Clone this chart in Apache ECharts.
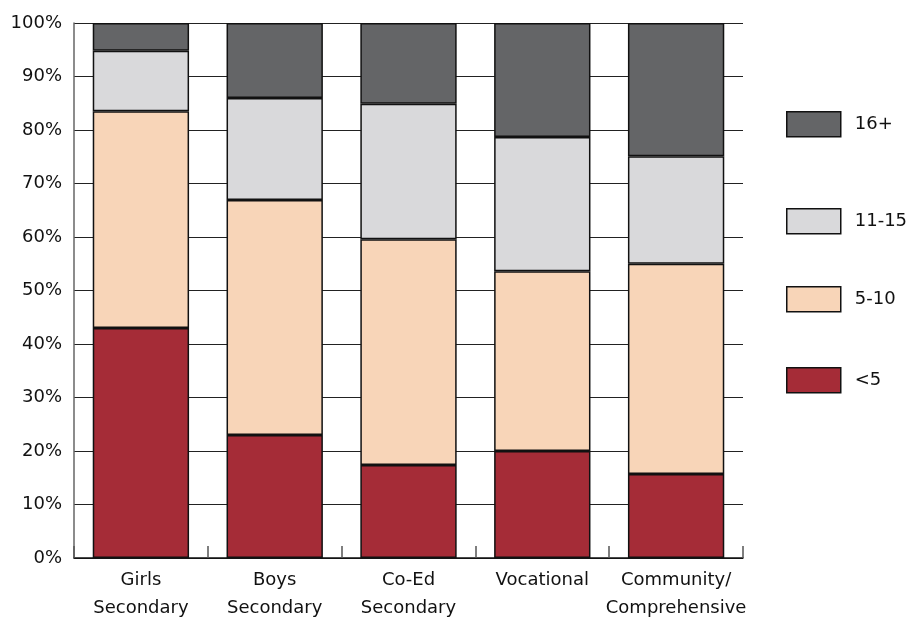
<!DOCTYPE html>
<html><head><meta charset="utf-8">
<script src="https://cdn.jsdelivr.net/npm/echarts@6/dist/echarts.min.js"></script>
<style>html,body{margin:0;padding:0;background:#fff}#c{width:909px;height:619px}</style>
</head><body><div id="c"></div>
<script>
const categories = ["Girls\nSecondary", "Boys\nSecondary", "Co-Ed\nSecondary", "Vocational", "Community/\nComprehensive"];
const seriesNames = ["<5", "5-10", "11-15", "16+"];
const under5 = [43.0, 23.0, 17.4, 20.0, 15.7];
const five10 = [40.5, 43.9, 42.2, 33.6, 39.3];
const eleven15 = [11.3, 19.1, 25.3, 25.1, 20.1];
const sixteenPlus = [5.2, 14.0, 15.1, 21.3, 24.9];
const yTicks = [0, 10, 20, 30, 40, 50, 60, 70, 80, 90, 100];

const colors = ["#a52c37", "#f8d5b8", "#d9d9db", "#646567"];
const dataSets = [under5, five10, eleven15, sixteenPlus];
const font = "'DejaVu Sans', sans-serif";
const legendTops = {"16+": 111, "11-15": 208, "5-10": 286, "<5": 367};

const chart = echarts.init(document.getElementById('c'), null, {renderer: 'canvas'});
const legends = seriesNames.map((n, i) => ({
  left: 786, top: legendTops[n], padding: 0, orient: 'vertical',
  itemWidth: 54, itemHeight: 25, selectedMode: false,
  icon: 'rect',
  data: [{name: n, itemStyle: {color: colors[i], borderColor: '#111', borderWidth: 1.5}}],
  textStyle: {fontFamily: font, fontSize: 18, color: '#111', padding: [0, 0, 0, 9]}
}));
chart.setOption({
  animation: false,
  textStyle: {fontFamily: font},
  legend: legends,
  grid: {left: 74, right: 166, top: 23, bottom: 61, containLabel: false, outerBoundsMode: 'none'},
  xAxis: {
    type: 'category', data: categories,
    axisLine: {lineStyle: {color: '#111', width: 1.5}},
    axisTick: {show: true, inside: true, length: 12, interval: 0, lineStyle: {color: '#555', width: 1.5}},
    axisLabel: {fontFamily: font, fontSize: 18, color: '#111', lineHeight: 28, margin: 8, interval: 0, hideOverlap: false}
  },
  yAxis: {
    type: 'value', min: 0, max: 100, interval: 10,
    axisLine: {show: true, lineStyle: {color: '#666', width: 1.5}},
    axisTick: {show: false},
    splitLine: {lineStyle: {color: '#222', width: 1.2}},
    axisLabel: {fontFamily: font, fontSize: 18, color: '#111', margin: 12,
      formatter: v => yTicks.includes(v) ? v + '%' : ''}
  },
  series: seriesNames.map((n, i) => ({
    name: n, type: 'bar', stack: 'total', data: dataSets[i],
    barCategoryGap: '28%',
    itemStyle: {color: colors[i], borderColor: '#111', borderWidth: 1.5}
  }))
});
</script></body></html>
